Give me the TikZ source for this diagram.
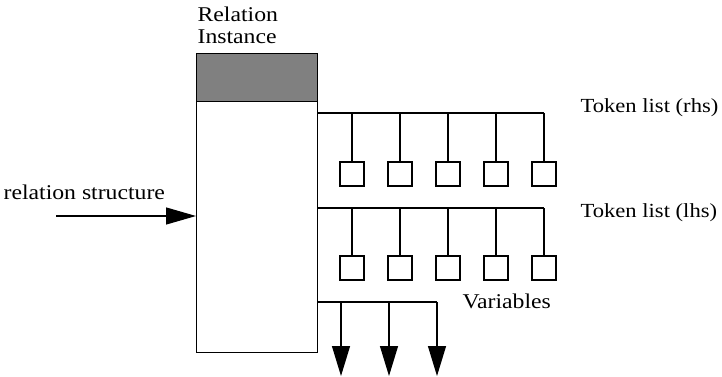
\documentclass[tikz,border=0pt]{standalone}
\usepackage{fontspec}
\setmainfont[FakeStretch=1.13]{Liberation Serif}
\usetikzlibrary{arrows.meta}
\begin{document}
\begin{tikzpicture}[x=1pt,y=-1pt,line width=1.2pt,
  lbl/.style={font=\fontsize{21}{22}\selectfont,inner sep=0pt},
  tlbl/.style={font=\fontsize{20}{22}\selectfont,inner sep=0pt},
  tok/.style={draw,minimum size=24pt,inner sep=0pt},
  big/.style={-{Triangle[length=30pt,width=18pt]}}]
\useasboundingbox (0,0) rectangle (722,377);
\node[draw,minimum width=121pt,minimum height=48pt,fill=black!50,inner sep=0pt,anchor=north west] (head) at (196,53) {};
\node[draw,minimum width=121pt,minimum height=251pt,inner sep=0pt,anchor=north west] (body) at (196,101) {};
\node[lbl,anchor=north west,align=left] (title) at (197,6) {Relation\\Instance};
% rhs list
\coordinate (r0) at (317,113);
\coordinate (r5) at (544,113);
\draw (r0) -- (r5);
\foreach \i/\x in {1/352,2/400,3/448,4/496,5/544}{
  \node[tok] (rb\i) at (\x,174) {};
  \coordinate (rt\i) at (\x,113);
  \draw (rt\i) -- (rb\i.north);
}
% lhs list
\coordinate (l0) at (317,208);
\coordinate (l5) at (544,208);
\draw (l0) -- (l5);
\foreach \i/\x in {1/352,2/400,3/448,4/496,5/544}{
  \node[tok] (lb\i) at (\x,268) {};
  \coordinate (lt\i) at (\x,208);
  \draw (lt\i) -- (lb\i.north);
}
% outputs
\coordinate (o0) at (317,302);
\coordinate (o3) at (437,302);
\draw (o0) -- (o3);
\foreach \i/\x in {1/341,2/389,3/437}{
  \coordinate (ot\i) at (\x,302);
  \coordinate (oe\i) at (\x,376);
  \draw[big] (ot\i) -- (oe\i);
}
% input
\coordinate (inS) at (56,216);
\draw[-{Triangle[length=30pt,width=17pt]}] (inS) -- (body.west |- inS);
\node[lbl,anchor=base west] (rs) at (3,199) {relation structure};
\node[tlbl,anchor=base west] (trhs) at (580,113) {Token list (rhs)};
\node[tlbl,anchor=base west] (tlhs) at (580,217) {Token list (lhs)};
\node[lbl,anchor=base west] (vars) at (462,308) {Variables};
\end{tikzpicture}
\end{document}
